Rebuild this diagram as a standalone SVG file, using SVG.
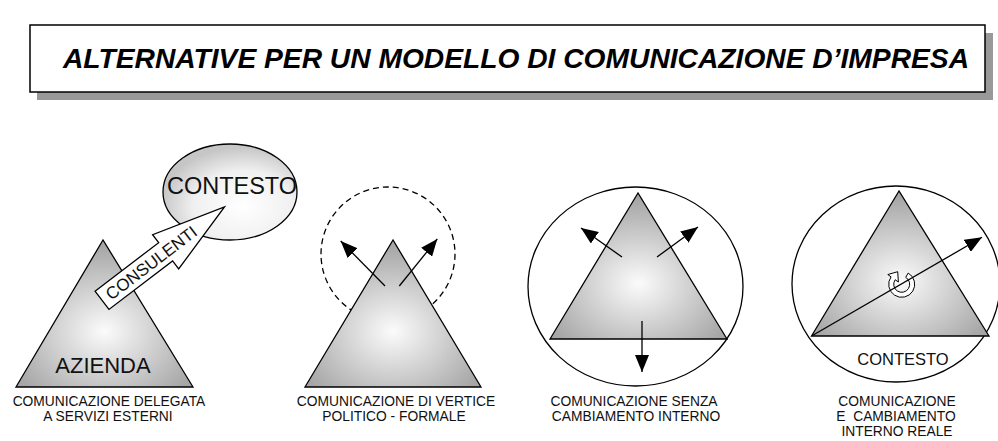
<svg xmlns="http://www.w3.org/2000/svg" width="998" height="441" viewBox="0 0 998 441">
<defs>
<radialGradient id="tri" cx="50%" cy="62%" r="58%">
<stop offset="0" stop-color="#fbfbfb"/>
<stop offset="1" stop-color="#a6a6a6"/>
</radialGradient>
<radialGradient id="ell" cx="60%" cy="65%" r="62%">
<stop offset="0" stop-color="#ffffff"/>
<stop offset="0.6" stop-color="#f0f0f0"/>
<stop offset="1" stop-color="#c6c6c6"/>
</radialGradient>
<marker id="ah" markerUnits="userSpaceOnUse" markerWidth="18" markerHeight="14" refX="17" refY="7" orient="auto">
<path d="M0,0 L17,7 L0,14 z" fill="#000"/>
</marker>
<style>
.tri{fill:url(#tri);stroke:#000;stroke-width:1.3;stroke-linejoin:miter}
.cap{font-family:"Liberation Sans",Arial,sans-serif;font-size:13.8px;fill:#111;text-anchor:middle}
.lbl{font-family:"Liberation Sans",Arial,sans-serif;fill:#111;text-anchor:middle}
.arr{stroke:#000;stroke-width:1.3;fill:none;marker-end:url(#ah)}
</style>
</defs>
<rect width="998" height="441" fill="#fff"/>

<g id="title">
<rect x="37" y="33" width="956" height="67" fill="#999"/>
<rect x="30" y="25" width="955" height="67" fill="#fff" stroke="#000" stroke-width="1.5"/>
<text x="516" y="68" font-family="'Liberation Sans',Arial,sans-serif" font-size="28" font-weight="bold" font-style="italic" text-anchor="middle" fill="#000" textLength="906" lengthAdjust="spacingAndGlyphs">ALTERNATIVE PER UN MODELLO DI COMUNICAZIONE D’IMPRESA</text>
</g>

<g id="diagram1">
<g id="contesto1">
<ellipse cx="230" cy="192" rx="67" ry="48" fill="url(#ell)" stroke="#000" stroke-width="1.3"/>
<text class="lbl" x="232" y="194" font-size="23.5">CONTESTO</text>
</g>
<g id="azienda">
<polygon class="tri" points="103,240 16,387 193,387"/>
<text class="lbl" x="103" y="373" font-size="22">AZIENDA</text>
</g>
<g id="consulenti" transform="translate(102,300.3) rotate(-37.3)">
<polygon points="0,-11.5 80,-11.5 80,-21.5 154,0 80,21.5 80,11.5 0,11.5" fill="#fff" stroke="#000" stroke-width="1.3" stroke-linejoin="miter"/>
<text class="lbl" x="62" y="6" font-size="17">CONSULENTI</text>
</g>
<text class="cap" x="109" y="406">COMUNICAZIONE DELEGATA</text>
<text class="cap" x="108" y="420.5">A SERVIZI ESTERNI</text>
</g>

<g id="diagram2">
<circle cx="388" cy="254" r="67" fill="none" stroke="#000" stroke-width="1.3" stroke-dasharray="6,4"/>
<polygon class="tri" points="393,240 305,387 481,387"/>
<text class="cap" x="396" y="406">COMUNICAZIONE DI VERTICE</text>
<text class="cap" x="394" y="420.5">POLITICO - FORMALE</text>
</g>

<g id="diagram3">
<ellipse cx="635.5" cy="286.5" rx="107.5" ry="99.5" fill="none" stroke="#000" stroke-width="1.3"/>
<polygon class="tri" points="638,193 550,339 727,339"/>
<text class="cap" x="634" y="406">COMUNICAZIONE SENZA</text>
<text class="cap" x="636" y="420.5">CAMBIAMENTO INTERNO</text>
</g>

<g id="diagram4">
<ellipse cx="896" cy="284" rx="104" ry="98" fill="none" stroke="#000" stroke-width="1.3"/>
<polygon class="tri" points="899,191 811.5,336 989,336"/>
<path id="cycle" d="M908.2,273.04 A13,13 0 1 1 891.05,276.84 L887.8,274.55 L897.7,271.7 L898.4,282 L895.15,279.71 A8,8 0 1 0 905.7,277.37 Z" fill="#fff" stroke="#000" stroke-width="1"/>
<text class="lbl" x="903" y="365" font-size="16.5">CONTESTO</text>
<text class="cap" x="897" y="405.5">COMUNICAZIONE</text>
<text class="cap" x="896" y="420.5" xml:space="preserve">E  CAMBIAMENTO</text>
<text class="cap" x="897" y="435.5">INTERNO REALE</text>
</g>

<g id="connectors">
<line class="arr" x1="385" y1="286" x2="340.7" y2="241"/>
<line class="arr" x1="399.3" y1="286" x2="437.3" y2="239"/>
<line class="arr" x1="622" y1="257" x2="581" y2="228"/>
<line class="arr" x1="657" y1="257" x2="698" y2="227"/>
<line class="arr" x1="642" y1="321" x2="642" y2="372"/>
<line class="arr" x1="812" y1="335.7" x2="982" y2="237.3"/>
</g>
</svg>
